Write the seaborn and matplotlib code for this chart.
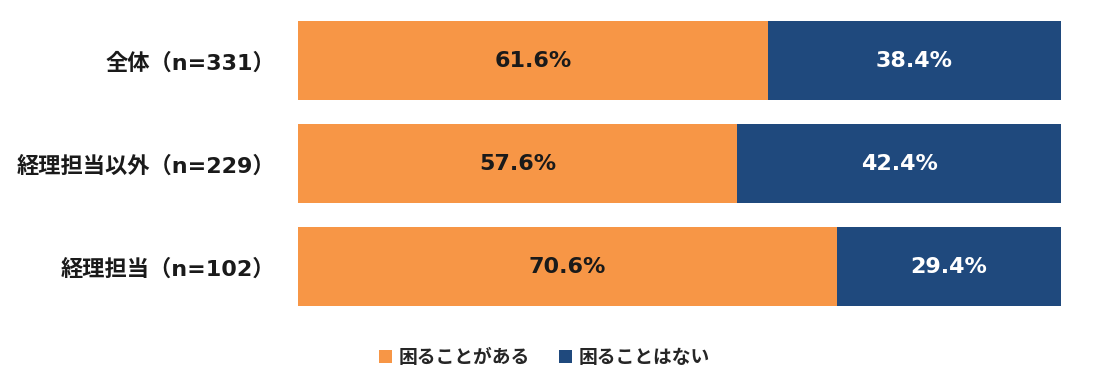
import matplotlib
matplotlib.use("Agg")
import matplotlib.pyplot as plt
import seaborn as sns
import pandas as pd
from matplotlib.patches import Patch

categories = ["全体（n=331）", "経理担当以外（n=229）", "経理担当（n=102）"]
series_names = ["困ることがある", "困ることはない"]
yes_values = [61.6, 57.6, 70.6]
no_values = [38.4, 42.4, 29.4]
colors = ["#F79646", "#1F497D"]

sns.set_theme(style="white")
plt.rcParams['font.family'] = ['DejaVu Sans', 'Noto Sans CJK JP']

df = pd.DataFrame({"cat": categories, "yes": yes_values, "no": no_values})
df["total"] = df["yes"] + df["no"]

fig = plt.figure(figsize=(11.03, 3.81), dpi=100)
ax = fig.add_axes([0.270, 0.165, 0.692, 0.811])

sns.barplot(data=df, y="cat", x="total", color=colors[1], orient="h",
            width=0.767, ax=ax, saturation=1, linewidth=0)
sns.barplot(data=df, y="cat", x="yes", color=colors[0], orient="h",
            width=0.767, ax=ax, saturation=1, linewidth=0)

for i, (y, n) in enumerate(zip(yes_values, no_values)):
    ax.text(y / 2, i, f"{y:.1f}%", ha="center", va="center",
            fontsize=16, fontweight="bold", color="#1a1a1a")
    ax.text(y + n / 2, i, f"{n:.1f}%", ha="center", va="center",
            fontsize=16, fontweight="bold", color="white")

ax.set_xlim(0, 100)
ax.set_ylim(2.5, -0.5)
ax.set_xlabel("")
ax.set_ylabel("")
ax.set_xticks([])
ax.tick_params(axis="y", length=0, pad=16)
for lab in ax.get_yticklabels():
    lab.set_fontsize(16)
    lab.set_fontweight("bold")
    lab.set_color("#1a1a1a")
for s in ax.spines.values():
    s.set_visible(False)

handles = [Patch(facecolor=c, edgecolor="none") for c in colors]
fig.legend(handles, series_names, loc="center", bbox_to_anchor=(0.4937, 0.062),
           ncol=2, frameon=False, prop={"size": 13.5, "weight": "bold"},
           handlelength=0.7, handleheight=0.7, handletextpad=0.36, columnspacing=1.55)

fig.savefig("out.png", dpi=100)
